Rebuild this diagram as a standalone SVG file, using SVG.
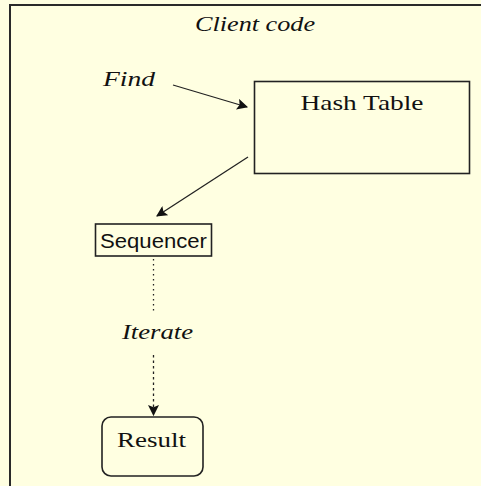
<svg xmlns="http://www.w3.org/2000/svg" width="481" height="486" viewBox="0 0 481 486">
<defs>
<style>
.frame{fill:none;stroke:#2a2a2a;stroke-width:2}
.box{fill:none;stroke:#222;stroke-width:1.6}
.serif{font-family:"Liberation Serif","Times New Roman",serif;fill:#111}
.ital{font-family:"Liberation Serif","Times New Roman",serif;font-style:italic;fill:#111}
.sans{font-family:"Liberation Sans",Arial,sans-serif;fill:#111}
.conn{fill:none;stroke:#222;stroke-width:1.3}
</style>
<marker id="ah" viewBox="0 0 10 10" refX="9" refY="5" markerWidth="11" markerHeight="11" markerUnits="userSpaceOnUse" orient="auto">
<path d="M0,0 L10,5 L0,10 L2,5 z" fill="#111"/>
</marker>
</defs>
<rect x="0" y="0" width="481" height="486" fill="#FFFFE1"/>
<g id="client">
<rect class="frame" x="10" y="5" width="480" height="490"/>
<text class="ital" x="255" y="31" font-size="20" text-anchor="middle" textLength="120" lengthAdjust="spacingAndGlyphs">Client code</text>
</g>
<g id="find">
<text class="ital" x="103" y="86" font-size="20" textLength="52" lengthAdjust="spacingAndGlyphs">Find</text>
</g>
<g id="hashtable">
<rect class="box" x="254.5" y="81.5" width="215" height="92"/>
<text class="serif" x="362" y="110" font-size="21" text-anchor="middle" textLength="123" lengthAdjust="spacingAndGlyphs">Hash Table</text>
</g>
<g id="sequencer">
<rect class="box" x="95.5" y="224" width="116" height="32"/>
<text class="sans" x="100" y="247.5" font-size="20.5" textLength="107" lengthAdjust="spacingAndGlyphs">Sequencer</text>
</g>
<g id="iterate">
<text class="ital" x="122" y="339" font-size="20" textLength="71" lengthAdjust="spacingAndGlyphs">Iterate</text>
</g>
<g id="result">
<rect class="box" x="102" y="417" width="101" height="59" rx="9" ry="9"/>
<text class="serif" x="117" y="447" font-size="22" textLength="69" lengthAdjust="spacingAndGlyphs">Result</text>
</g>
<g id="connectors">
<line class="conn" x1="173" y1="85" x2="247" y2="107" marker-end="url(#ah)"/>
<line class="conn" x1="248" y1="157" x2="157" y2="216" marker-end="url(#ah)"/>
<line class="conn" x1="153.5" y1="259" x2="153.5" y2="314" stroke-dasharray="1.5,3.5"/>
<line class="conn" x1="153.5" y1="355" x2="153.5" y2="415" stroke-width="1.8" stroke-dasharray="2.5,3" marker-end="url(#ah)"/>
</g>
</svg>
